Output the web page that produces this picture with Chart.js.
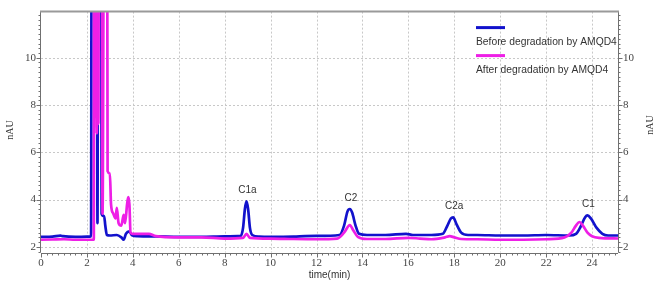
<!DOCTYPE html>
<html><head><meta charset="utf-8">
<script src="https://cdn.jsdelivr.net/npm/chart.js@4/dist/chart.umd.min.js"></script>
<style>html,body{margin:0;padding:0;background:#fff;}#wrap{width:660px;height:285px;}</style>
</head><body><div id="wrap"><canvas id="c" width="660" height="285"></canvas></div>
<script>
// ---- data ----
const seriesNames = ['Before degradation by AMQD4', 'After degradation by AMQD4'];
const beforeTime = [0,0.5,0.85,0.95,1.5,2.0,2.18,2.22,2.42,2.46,2.5,2.6,2.64,2.75,2.8,2.87,3.0,3.3,3.5,3.6,3.7,3.85,3.95,4.2,5,6,7,8,8.7,8.8,8.88,8.95,9.02,9.1,9.2,9.5,10,11,11.5,12,13,13.2,13.35,13.45,13.55,13.7,13.85,14.2,15,15.9,16.2,17,17.5,17.7,17.85,17.95,18.1,18.3,18.6,19,20,21,22,23,23.3,23.5,23.7,23.8,23.95,24.2,24.45,24.7,25.2];
const beforeValues = [2.42,2.43,2.47,2.45,2.42,2.43,2.44,30,30,3.0,30,30,3.4,3.3,2.9,2.5,2.48,2.5,2.4,2.3,2.55,2.65,2.5,2.45,2.44,2.42,2.42,2.44,2.46,2.8,3.6,3.92,3.6,2.8,2.5,2.43,2.42,2.43,2.45,2.46,2.5,2.9,3.5,3.6,3.45,2.9,2.55,2.5,2.5,2.55,2.5,2.5,2.55,2.9,3.2,3.25,2.95,2.6,2.5,2.5,2.48,2.48,2.5,2.48,2.55,2.85,3.25,3.33,3.2,2.8,2.55,2.48,2.48];
const afterTime = [0,0.5,1,1.5,2.0,2.3,2.32,2.36,2.39,2.43,2.46,2.5,2.53,2.62,2.68,2.78,2.86,2.9,3.0,3.05,3.15,3.25,3.3,3.38,3.5,3.6,3.66,3.75,3.8,3.85,3.9,4.0,4.7,5,6,7,8,8.8,8.95,9.1,10,11,12,12.9,13.2,13.45,13.6,13.8,14.2,15,16,16.5,17,17.6,17.8,18.0,18.3,19,20,21,22,22.8,23.1,23.3,23.45,23.6,23.8,24.0,24.3,25.2];
const afterValues = [2.3,2.31,2.32,2.3,2.3,2.3,30,7.5,30,6.8,30,7.2,30,30,3.4,30,30,5.2,5.1,3.8,3.4,3.2,3.65,3.0,2.9,3.35,3.0,3.8,4.1,3.8,2.6,2.55,2.55,2.45,2.4,2.4,2.35,2.38,2.55,2.38,2.35,2.33,2.32,2.35,2.6,2.92,2.7,2.42,2.33,2.33,2.38,2.35,2.32,2.4,2.45,2.4,2.33,2.32,2.3,2.3,2.32,2.4,2.6,2.9,3.05,2.9,2.6,2.45,2.38,2.35];
const peakLabels = ['C1a','C2','C2a','C1'];
const peakTimes = [8.95,13.45,17.95,23.8];
const peakHeights = [3.92,3.6,3.25,3.33];
const xTicks = [0,2,4,6,8,10,12,14,16,18,20,22,24];
const yTicks = [2,4,6,8,10];
const xTitle = 'time(min)';
const yTitle = 'nAU';

// ---- styles ----
const BLUE = '#1212cc', MAGENTA = '#ee1fe6';
const X_MIN = 0, X_MAX = 25.13, Y_MIN = 1.76, Y_MAX = 11.95;
const SERIF = '"Liberation Serif", "DejaVu Serif", serif';
const SANS = '"Liberation Sans", Arial, sans-serif';

const toPts = (t, v) => t.map((x, i) => ({x, y: v[i]}));

const decor = {
  id: 'decor',
  beforeDatasetsDraw(chart) {
    const {ctx, chartArea: a, scales: {x, y}} = chart;
    ctx.save();
    ctx.strokeStyle = '#c8c8c8'; ctx.lineWidth = 1; ctx.setLineDash([2, 2]);
    xTicks.forEach(v => {
      if (v <= X_MIN) return;
      const p = Math.round(x.getPixelForValue(v)) + 0.5;
      ctx.beginPath(); ctx.moveTo(p, a.top); ctx.lineTo(p, a.bottom); ctx.stroke();
    });
    yTicks.forEach(v => {
      const p = Math.round(y.getPixelForValue(v)) + 0.5;
      ctx.beginPath(); ctx.moveTo(a.left, p); ctx.lineTo(a.right, p); ctx.stroke();
    });
    ctx.restore();
  },
  afterDatasetsDraw(chart) {
    const {ctx, chartArea: a, scales: {x, y}} = chart;
    ctx.save();
    ctx.setLineDash([]);
    ctx.strokeStyle = '#707070'; ctx.lineWidth = 1;
    const L = a.left - 0.5, R = a.right + 0.5, B = Math.round(a.bottom) + 0.5;
    ctx.beginPath();
    ctx.moveTo(L, a.top); ctx.lineTo(L, a.bottom);
    ctx.moveTo(R, a.top); ctx.lineTo(R, a.bottom);
    ctx.moveTo(a.left, B); ctx.lineTo(a.right, B);
    ctx.stroke();
    ctx.beginPath();
    for (let v = X_MIN; v <= X_MAX + 1e-6; v += 0.25) {
      const p = Math.round(x.getPixelForValue(v)) + 0.5;
      const major = Math.abs(v / 2 - Math.round(v / 2)) < 1e-6;
      ctx.moveTo(p, B); ctx.lineTo(p, B + (major ? 4 : 2));
    }
    for (let v = 1.8; v <= Y_MAX; v += 0.2) {
      const p = Math.round(y.getPixelForValue(v)) + 0.5;
      const major = Math.abs(v / 2 - Math.round(v / 2)) < 1e-6;
      const len = major ? 4 : 2;
      ctx.moveTo(L, p); ctx.lineTo(L - len, p);
      ctx.moveTo(R, p); ctx.lineTo(R + len, p);
    }
    ctx.stroke();
    ctx.strokeStyle = '#9a9a9a'; ctx.lineWidth = 2;
    ctx.beginPath(); ctx.moveTo(a.left - 1, a.top); ctx.lineTo(a.right + 1, a.top); ctx.stroke();

    ctx.fillStyle = '#333'; ctx.font = '10px ' + SANS;
    ctx.textAlign = 'center'; ctx.textBaseline = 'bottom';
    peakLabels.forEach((lab, i) => {
      ctx.fillText(lab, x.getPixelForValue(peakTimes[i]) + 1, y.getPixelForValue(peakHeights[i]) - 6);
    });

    const ds = chart.data.datasets;
    const lx = a.right - 142;
    ds.forEach((d, i) => {
      const ly = a.top + 16 + i * 28;
      ctx.strokeStyle = d.borderColor; ctx.lineWidth = 3;
      ctx.beginPath(); ctx.moveTo(lx, ly); ctx.lineTo(lx + 29, ly); ctx.stroke();
      ctx.fillStyle = '#333'; ctx.font = '10.3px ' + SANS;
      ctx.textAlign = 'left'; ctx.textBaseline = 'middle';
      ctx.fillText(d.label, lx, ly + 15);
    });

    ctx.fillStyle = '#333';
    ctx.font = '10px ' + SANS; ctx.textAlign = 'center'; ctx.textBaseline = 'middle';
    ctx.fillText(xTitle, (a.left + a.right) / 2, 275);
    ctx.font = '10px ' + SERIF;
    [[10, 130], [650, 125]].forEach(([tx, ty]) => {
      ctx.save(); ctx.translate(tx, ty); ctx.rotate(-Math.PI / 2);
      ctx.fillText(yTitle, 0, 0); ctx.restore();
    });
    ctx.restore();
  }
};

const tickFont = {family: SERIF, size: 11};
new Chart(document.getElementById('c'), {
  type: 'line',
  data: {
    datasets: [
      {label: seriesNames[0], data: toPts(beforeTime, beforeValues), borderColor: BLUE, borderWidth: 2.7, clip: 0, order: 1},
      {label: seriesNames[1], data: toPts(afterTime, afterValues), borderColor: MAGENTA, borderWidth: 2.7, clip: 0, order: 0}
    ]
  },
  options: {
    responsive: false, animation: false, devicePixelRatio: 1,
    layout: {padding: {top: 4, left: 0, right: 0, bottom: 0}},
    elements: {point: {radius: 0}, line: {cubicInterpolationMode: 'monotone', borderJoinStyle: 'round'}},
    plugins: {legend: {display: false}, tooltip: {enabled: false}},
    scales: {
      x: {
        type: 'linear', position: 'bottom', min: X_MIN, max: X_MAX,
        afterBuildTicks: s => { s.ticks = xTicks.map(v => ({value: v})); },
        afterFit: s => { s.height = 32.5; },
        grid: {display: false, drawTicks: false}, border: {display: false},
        ticks: {font: tickFont, color: '#444', padding: 4, maxRotation: 0, autoSkip: false}
      },
      y: {
        type: 'linear', position: 'left', min: Y_MIN, max: Y_MAX,
        afterBuildTicks: s => { s.ticks = yTicks.map(v => ({value: v})); },
        afterFit: s => { s.width = 41; },
        grid: {display: false, drawTicks: false}, border: {display: false},
        ticks: {font: tickFont, color: '#444', padding: 5}
      },
      y2: {
        type: 'linear', position: 'right', min: Y_MIN, max: Y_MAX,
        afterBuildTicks: s => { s.ticks = yTicks.map(v => ({value: v})); },
        afterFit: s => { s.width = 42; },
        grid: {display: false, drawTicks: false}, border: {display: false},
        ticks: {font: tickFont, color: '#444', padding: 5}
      }
    }
  },
  plugins: [decor]
});
</script>
</body></html>
